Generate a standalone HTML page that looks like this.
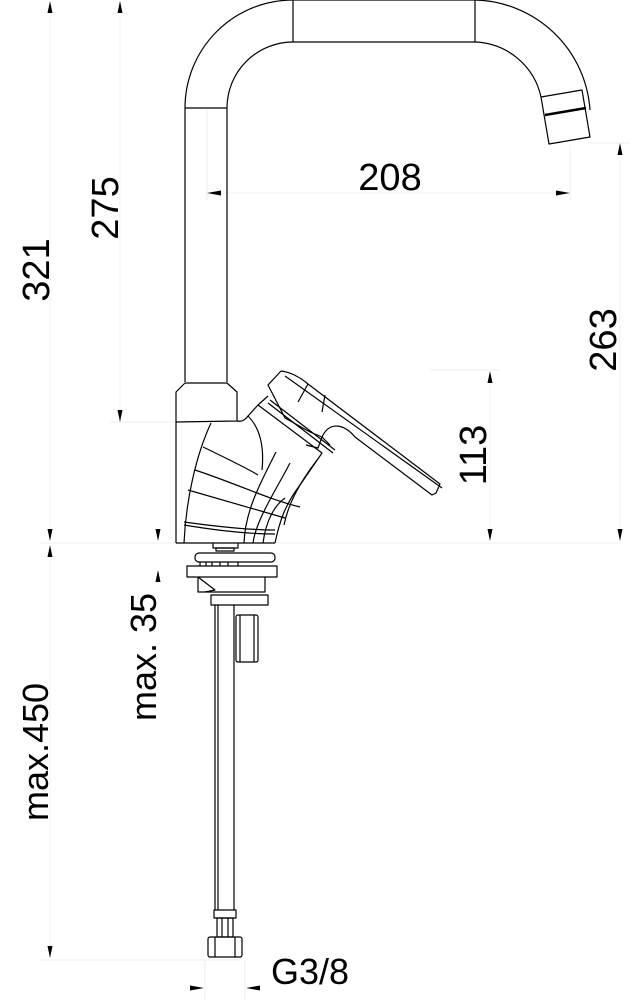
<!DOCTYPE html>
<html><head><meta charset="utf-8"><style>
html,body{margin:0;padding:0;background:#fff;}
svg{display:block;}
text{font-family:"Liberation Sans",sans-serif;fill:#000;}
</style></head><body>
<svg width="637" height="1000" viewBox="0 0 637 1000" xmlns="http://www.w3.org/2000/svg">
<!-- faint extension lines -->
<g stroke="#eee" stroke-width="1" fill="none">
<line x1="40" y1="543" x2="620" y2="543"/>
<line x1="110" y1="422" x2="176" y2="422"/>
<line x1="207" y1="110" x2="207" y2="200"/>
<line x1="570" y1="145" x2="570" y2="200"/>
<line x1="590" y1="143" x2="630" y2="143"/>
<line x1="430" y1="370" x2="500" y2="370"/>
<line x1="40" y1="960" x2="240" y2="960"/>
<line x1="205" y1="960" x2="205" y2="1000"/>
<line x1="245" y1="960" x2="245" y2="1000"/>
</g>
<g stroke="#f0f0f0" stroke-width="1" fill="none">
<line x1="50" y1="2" x2="50" y2="541"/>
<line x1="120" y1="2" x2="120" y2="420"/>
<line x1="208" y1="193" x2="570" y2="193"/>
<line x1="620" y1="145" x2="620" y2="541"/>
<line x1="490" y1="372" x2="490" y2="541"/>
<line x1="50" y1="546" x2="50" y2="958"/>
</g>
<g fill="#000">
<!-- up arrows: tip at (x,y) -->
<path d="M50,1 l-2.5,12 h5z"/><path d="M120,1 l-2.5,12 h5z"/>
<path d="M620,143 l-2.5,12 h5z"/><path d="M490,371 l-2.5,12 h5z"/>
<path d="M50,545 l-2.5,12 h5z"/><path d="M158,570 l-2.5,12 h5z"/>
<!-- down arrows -->
<path d="M50,541 l-2.5,-12 h5z"/><path d="M120,422 l-2.5,-12 h5z"/>
<path d="M620,541 l-2.5,-12 h5z"/><path d="M490,541 l-2.5,-12 h5z"/>
<path d="M50,958 l-2.5,-12 h5z"/><path d="M158,541 l-2.5,-12 h5z"/>
<!-- horizontal -->
<path d="M207,193 l14,-2.5 v5z"/><path d="M570,193 l-14,-2.5 v5z"/>
<path d="M204,988 l-14,-2.5 v5z"/><path d="M246,988 l14,-2.5 v5z"/>
</g>
<!-- labels -->
<text x="0" y="0" font-size="38" text-anchor="middle" transform="translate(49,270) rotate(-90)">321</text>
<text x="0" y="0" font-size="38" text-anchor="middle" transform="translate(118,208) rotate(-90)">275</text>
<text x="390" y="190" font-size="38" text-anchor="middle">208</text>
<text x="0" y="0" font-size="38" text-anchor="middle" transform="translate(616,340) rotate(-90)">263</text>
<text x="0" y="0" font-size="38" text-anchor="middle" transform="translate(486,455) rotate(-90)">113</text>
<text x="0" y="0" font-size="36" text-anchor="middle" transform="translate(156,657) rotate(-90)">max. 35</text>
<text x="0" y="0" font-size="36" text-anchor="middle" transform="translate(48,752) rotate(-90)">max.450</text>
<text x="310" y="984" font-size="36" text-anchor="middle">G3/8</text>
<!-- faucet -->
<g stroke="#000" stroke-width="1.2" fill="none" stroke-linejoin="round">
<path d="M185,382 L185,108 A108,108 0 0 1 293,0 L475,0 A118,118 0 0 1 590,110"/>
<path d="M227,382 L227,108 A66,66 0 0 1 293,42 L475,42 A70,70 0 0 1 541,97"/>
<line x1="185" y1="108" x2="227" y2="108"/>
<line x1="293" y1="0" x2="293" y2="42"/>
<line x1="475" y1="0" x2="475" y2="42"/>
<path d="M541,97 L582,90 L590,137 L549,144 Z"/>
<line x1="545" y1="115" x2="586" y2="108" stroke-width="2.5"/>
<path d="M176,422 L176,392 L185,383 L227,383 L237,392 L237,421 Z"/>
<line x1="176" y1="543" x2="176" y2="422"/>
<line x1="176" y1="543" x2="275" y2="543"/>
<path d="M211,423 C196,455 186,500 184,543"/>
<path d="M237,421 C242,422 245,420 248,416 C262,430 264,450 262,470"/>
<path d="M248,416 L258,405 L322,453 L300,485"/>
<path d="M258,405 L268,396"/>
<path d="M300,485 C285,505 280,520 275,543"/>
<path d="M317,460 C298,485 288,505 284,525"/>
<path d="M285,498 C275,505 266,520 263,543"/>
<path d="M276,452 C262,480 245,510 244,543"/>
<path d="M290,463 C276,490 256,520 253,543"/>
<path d="M203,447 C230,460 250,470 258,475"/>
<path d="M195,470 C240,485 270,500 300,507"/>
<path d="M188,490 L285,518"/>
<path d="M184,522 C220,527 250,530 275,530"/>
<path d="M184,525 C220,531 250,534 275,534"/>
<path d="M281,371 L268,385 L285,418 L310,432 L322,437"/>
<path d="M281,371 C290,372 300,377 308,384 L440,484 L436,493 L432,495 L355,437"/>
<path d="M285,376 L442,488"/>
<path d="M308,384 L298,402"/>
<path d="M325,395 L322,412"/>
<path d="M355,437 C345,425 330,420 322,437 L318,448 L306,445"/>
<path d="M322,437 L330,445"/>
<path d="M270,400 L335,450"/>
<path d="M268,403 L333,453"/>
<path d="M213,543 v5 h25 v-5"/>
<rect x="216" y="548" width="18" height="3"/>
<rect x="195" y="553" width="80" height="9" rx="4"/>
<path d="M200,562 v4 M206,562 v4 M212,562 v4 M220,562 v4 M228,562 v4 M238,562 v4"/>
<rect x="187" y="566" width="90" height="11"/>
<path d="M198,577 L198,592 L265,592 L265,577"/>
<path d="M198,577 L215,590 L205,592"/>
<rect x="211" y="595" width="57" height="10"/>
<line x1="215" y1="605" x2="215" y2="910"/>
<line x1="234" y1="605" x2="234" y2="910"/>
<line x1="218" y1="605" x2="218" y2="910"/>
<rect x="236" y="615" width="22" height="47" rx="2"/>
<line x1="240" y1="615" x2="240" y2="662"/>
<line x1="254" y1="615" x2="254" y2="662"/>
<rect x="214" y="910" width="22" height="8"/>
<rect x="217" y="918" width="16" height="19"/>
<line x1="222" y1="918" x2="222" y2="937"/><line x1="228" y1="918" x2="228" y2="937"/>
<rect x="208" y="937" width="34" height="20" rx="2"/>
<line x1="215" y1="937" x2="215" y2="957"/><line x1="235" y1="937" x2="235" y2="957"/>
</g>
</svg>
</body></html>
